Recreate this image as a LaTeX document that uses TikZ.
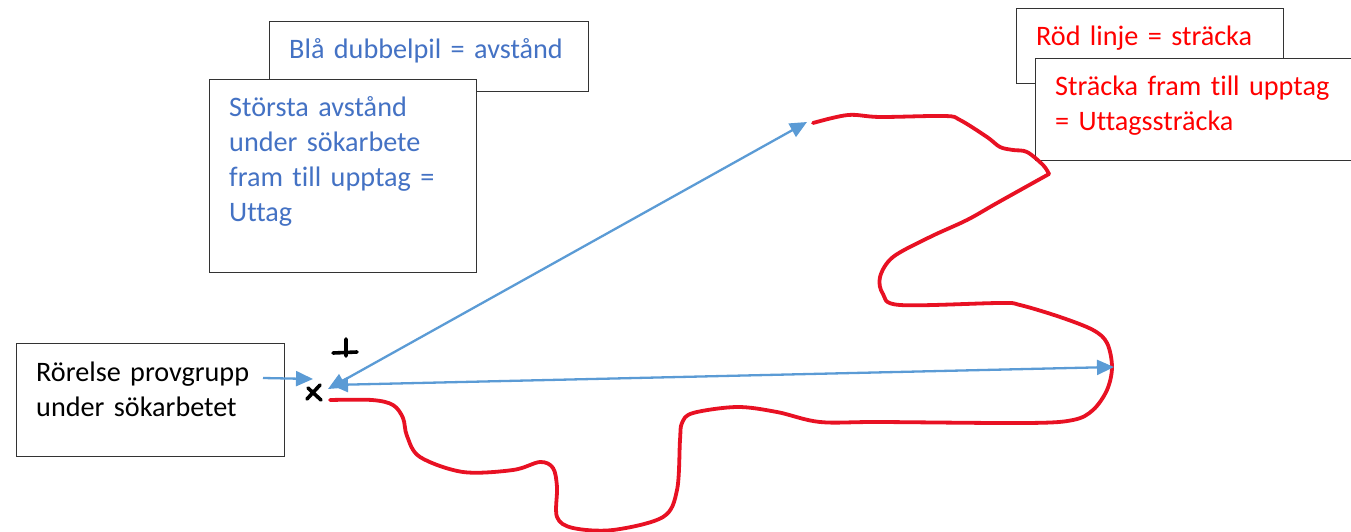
\documentclass[tikz,border=0pt]{standalone}
\usepackage{fontspec}
\setmainfont[Ligatures=NoCommon]{Carlito}
\usetikzlibrary{arrows.meta}
\definecolor{textbla}{HTML}{4472C4}
\definecolor{pilbla}{HTML}{5B9BD5}
\definecolor{textrod}{HTML}{FF0000}
\definecolor{rodfarg}{HTML}{E81123}
\begin{document}
\begin{tikzpicture}[x=1pt,y=-1pt,>={Triangle[length=17pt,width=15pt]}]
\tikzset{ruta/.style={draw=black!80,line width=1.3pt,fill=white,anchor=north west,inner sep=0pt},
  txt/.style={anchor=base west,inner sep=0pt,align=left,text width=330pt,font=\fontsize{28.2}{35}\selectfont},
  pil/.style={->,line width=2.3pt,draw=pilbla},
  dubbel/.style={pil,<->},
  rodlinje/.style={draw=rodfarg,line width=3.8pt,line cap=round,line join=round},
  markering/.style={draw=black,line width=3.6pt,line cap=round}}
\newcommand\ruta[7]{
  \node[ruta,minimum width=#4pt,minimum height=#5pt] (#1) at (#2,#3) {};
  \node[txt,text=#6] (#1Text) at ([shift={(20,38)}]#1.north west) {#7};
}
\useasboundingbox (0,0) rectangle (1351,532);

% textrutor
\ruta{bla}{269}{21}{319}{70}{textbla}{Blå dubbelpil = avstånd}
\ruta{storsta}{209}{79}{267}{193}{textbla}{Största avstånd\\under sökarbete\\fram till upptag =\\Uttag}
\ruta{rod}{1016}{8}{267}{75}{textrod}{Röd linje = sträcka}
\ruta{stracka}{1035}{58}{320}{102}{textrod}{Sträcka fram till upptag\\= Uttagssträcka}
\ruta{rorelse}{16}{343}{268}{113}{black}{Rörelse provgrupp\\under sökarbetet}

% sträcka
\draw[rodlinje] plot[smooth,tension=.55] coordinates {(330,400) (372,400) (393,405) (403,418)
  (407,436) (420,457) (463,472) (513,470) (540,462) (553,468) (557,487) (557,517) (573,528)
  (613,530) (663,517) (677,490) (680,440) (682,423) (693,413) (737,407) (777,412) (820,422)
  (880,422) (1027,423) (1073,420) (1093,410) (1107,390) (1112,367) (1107,343) (1093,330)
  (1060,317) (1020,305) (1000,303) (900,305) (883,294) (880,277) (893,257) (930,237)
  (967,220) (997,203) (1049,174)};
\draw[rodlinje] plot[smooth,tension=.55] coordinates {(1049,174) (1043,165) (1027,152)
  (1013,150) (1000,147) (987,137) (960,120) (945,116) (880,117) (848,115) (813,123)};

% markeringar
\draw[markering] (333,353) -- (357,352) (346,339) -- (346,356);
\draw[markering] (308,388) -- (321,400) (320,385) -- (307,399);

% pilar
\coordinate (rorelseUt) at (263,378);
\coordinate (kryss) at (313,379);
\coordinate (start1) at (328,389);
\coordinate (start2) at (331,385);
\coordinate (upptag) at (807,122);
\coordinate (ytter) at (1114,367);
\draw[pil] (rorelseUt) -- (kryss);
\draw[dubbel] (start1) -- (upptag);
\draw[dubbel] (start2) -- (ytter);
\end{tikzpicture}
\end{document}
